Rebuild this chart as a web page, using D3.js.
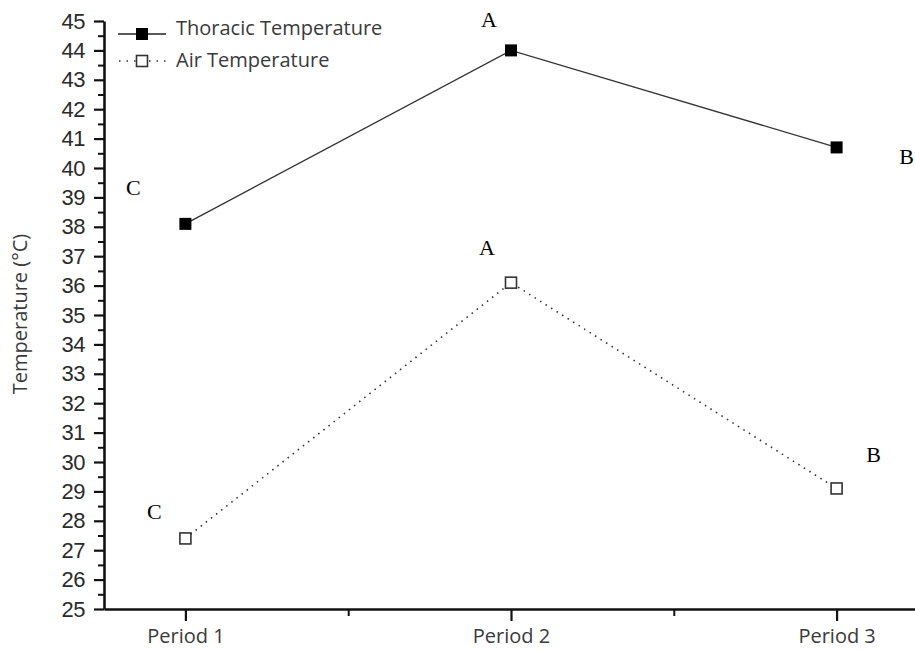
<!DOCTYPE html>
<html>
<head>
<meta charset="utf-8">
<script src="https://cdn.jsdelivr.net/npm/d3@7"></script>
<style>
  body { margin: 0; background: #fff; }
  svg { display: block; }
  .axis path, .axis line { stroke: #111; }
</style>
</head>
<body>
<div id="vis"></div>
<script>
// chart data
var periods = ["Period 1", "Period 2", "Period 3"];
var thoracic = [38.1, 44.0, 40.7];
var air = [27.4, 36.1, 29.1];
var thoracicLetters = ["C", "A", "B"];
var airLetters = ["C", "A", "B"];
var yTicks = d3.range(25, 46, 1);

// letter offsets from each point (layout only)
var thoracicOffsets = [[-52, -29], [-22, -23], [70, 17]];
var airOffsets = [[-31, -19], [-24, -28], [37, -26]];

var width = 915, height = 651;

var svg = d3.select("#vis")
  .append("svg")
  .attr("width", width)
  .attr("height", height);

var x = d3.scaleLinear().domain([0.75, 3.25]).range([104, 918]),
    y = d3.scaleLinear().domain([25, 45]).range([609, 21]);

// y axis, major ticks with labels
var yAxis = svg.append("g")
  .attr("class", "axis")
  .attr("transform", "translate(" + x(0.75) + ",0)")
  .call(d3.axisLeft(y).tickValues(yTicks).tickSize(10).tickSizeOuter(0).tickPadding(9));
yAxis.select(".domain").attr("stroke-width", 2.6);
yAxis.selectAll(".tick line").attr("stroke-width", 2.2);
yAxis.selectAll("text")
  .attr("fill", "#2b2b2b")
  .style("font-family", "'Liberation Sans', Arial, sans-serif")
  .style("font-size", "22px")
  .style("letter-spacing", "-0.5px");

// minor y ticks
svg.append("g")
  .attr("class", "axis")
  .attr("transform", "translate(" + x(0.75) + ",0)")
  .call(d3.axisLeft(y).tickValues(d3.range(25.5, 45, 1)).tickSize(6).tickFormat(""))
  .call(function(g) { g.select(".domain").remove(); })
  .selectAll("line").attr("stroke-width", 2);

// x axis
var xAxis = svg.append("g")
  .attr("class", "axis")
  .attr("transform", "translate(0," + y(25) + ")")
  .call(d3.axisBottom(x).tickValues([1, 2, 3]).tickFormat(function(d) { return periods[d - 1]; })
    .tickSize(12).tickSizeOuter(0).tickPadding(8));
xAxis.select(".domain").attr("stroke-width", 2.6);
xAxis.selectAll(".tick line").attr("stroke-width", 2.2);
xAxis.selectAll("text")
  .attr("fill", "#3a3a3a")
  .style("font-family", "'Open Sans', sans-serif")
  .style("font-size", "20px");

// minor x ticks
svg.append("g")
  .attr("class", "axis")
  .attr("transform", "translate(0," + y(25) + ")")
  .call(d3.axisBottom(x).tickValues([1.5, 2.5]).tickSize(7).tickFormat(""))
  .call(function(g) { g.select(".domain").remove(); })
  .selectAll("line").attr("stroke-width", 2);

// y axis title
svg.append("text")
  .attr("transform", "translate(27,314) rotate(-90)")
  .attr("text-anchor", "middle")
  .attr("fill", "#3a3a3a")
  .style("font-family", "'Open Sans', sans-serif")
  .style("font-size", "20px")
  .text("Temperature (°C)");

var line = d3.line()
  .x(function(d, i) { return x(i + 1); })
  .y(function(d) { return y(d); });

// air temperature, dotted
svg.append("path")
  .datum(air)
  .attr("d", line)
  .attr("fill", "none")
  .attr("stroke", "#333")
  .attr("stroke-width", 1.6)
  .attr("stroke-dasharray", "1.5,5");

// thoracic temperature, solid
svg.append("path")
  .datum(thoracic)
  .attr("d", line)
  .attr("fill", "none")
  .attr("stroke", "#333")
  .attr("stroke-width", 1.3);

var s = 12;
svg.selectAll(".tMark")
  .data(thoracic)
  .enter().append("rect")
    .attr("class", "tMark")
    .attr("x", function(d, i) { return x(i + 1) - s / 2; })
    .attr("y", function(d) { return y(d) - s / 2; })
    .attr("width", s)
    .attr("height", s)
    .attr("fill", "#000");

svg.selectAll(".aMark")
  .data(air)
  .enter().append("rect")
    .attr("class", "aMark")
    .attr("x", function(d, i) { return x(i + 1) - (s - 1) / 2; })
    .attr("y", function(d) { return y(d) - (s - 1) / 2; })
    .attr("width", s - 1)
    .attr("height", s - 1)
    .attr("fill", "#fff")
    .attr("stroke", "#333")
    .attr("stroke-width", 1.6);

// significance letters
function letters(vals, labs, offs) {
  svg.append("g").selectAll("text")
    .data(vals)
    .enter().append("text")
      .attr("x", function(d, i) { return x(i + 1) + offs[i][0]; })
      .attr("y", function(d, i) { return y(d) + offs[i][1]; })
      .attr("text-anchor", "middle")
      .attr("fill", "#000")
      .style("font-family", "'Liberation Serif', 'Times New Roman', serif")
      .style("font-size", "22px")
      .text(function(d, i) { return labs[i]; });
}
letters(thoracic, thoracicLetters, thoracicOffsets);
letters(air, airLetters, airOffsets);

// legend
var legend = svg.append("g");
legend.append("line")
  .attr("x1", 118).attr("x2", 166).attr("y1", 34).attr("y2", 34)
  .attr("stroke", "#222").attr("stroke-width", 1.4);
legend.append("rect")
  .attr("x", 142 - s / 2).attr("y", 34 - s / 2).attr("width", s).attr("height", s)
  .attr("fill", "#000");
legend.append("text")
  .attr("x", 176).attr("y", 35)
  .attr("fill", "#3a3a3a")
  .style("font-family", "'Open Sans', sans-serif")
  .style("font-size", "20px")
  .text("Thoracic Temperature");

legend.append("line")
  .attr("x1", 119).attr("x2", 166).attr("y1", 61).attr("y2", 61)
  .attr("stroke", "#333").attr("stroke-width", 1.6)
  .attr("stroke-dasharray", "1.5,6");
legend.append("rect")
  .attr("x", 142 - (s - 1) / 2).attr("y", 61 - (s - 1) / 2).attr("width", s - 1).attr("height", s - 1)
  .attr("fill", "#fff").attr("stroke", "#333").attr("stroke-width", 1.6);
legend.append("text")
  .attr("x", 176).attr("y", 67)
  .attr("fill", "#3a3a3a")
  .style("font-family", "'Open Sans', sans-serif")
  .style("font-size", "20px")
  .text("Air Temperature");
</script>
</body>
</html>
